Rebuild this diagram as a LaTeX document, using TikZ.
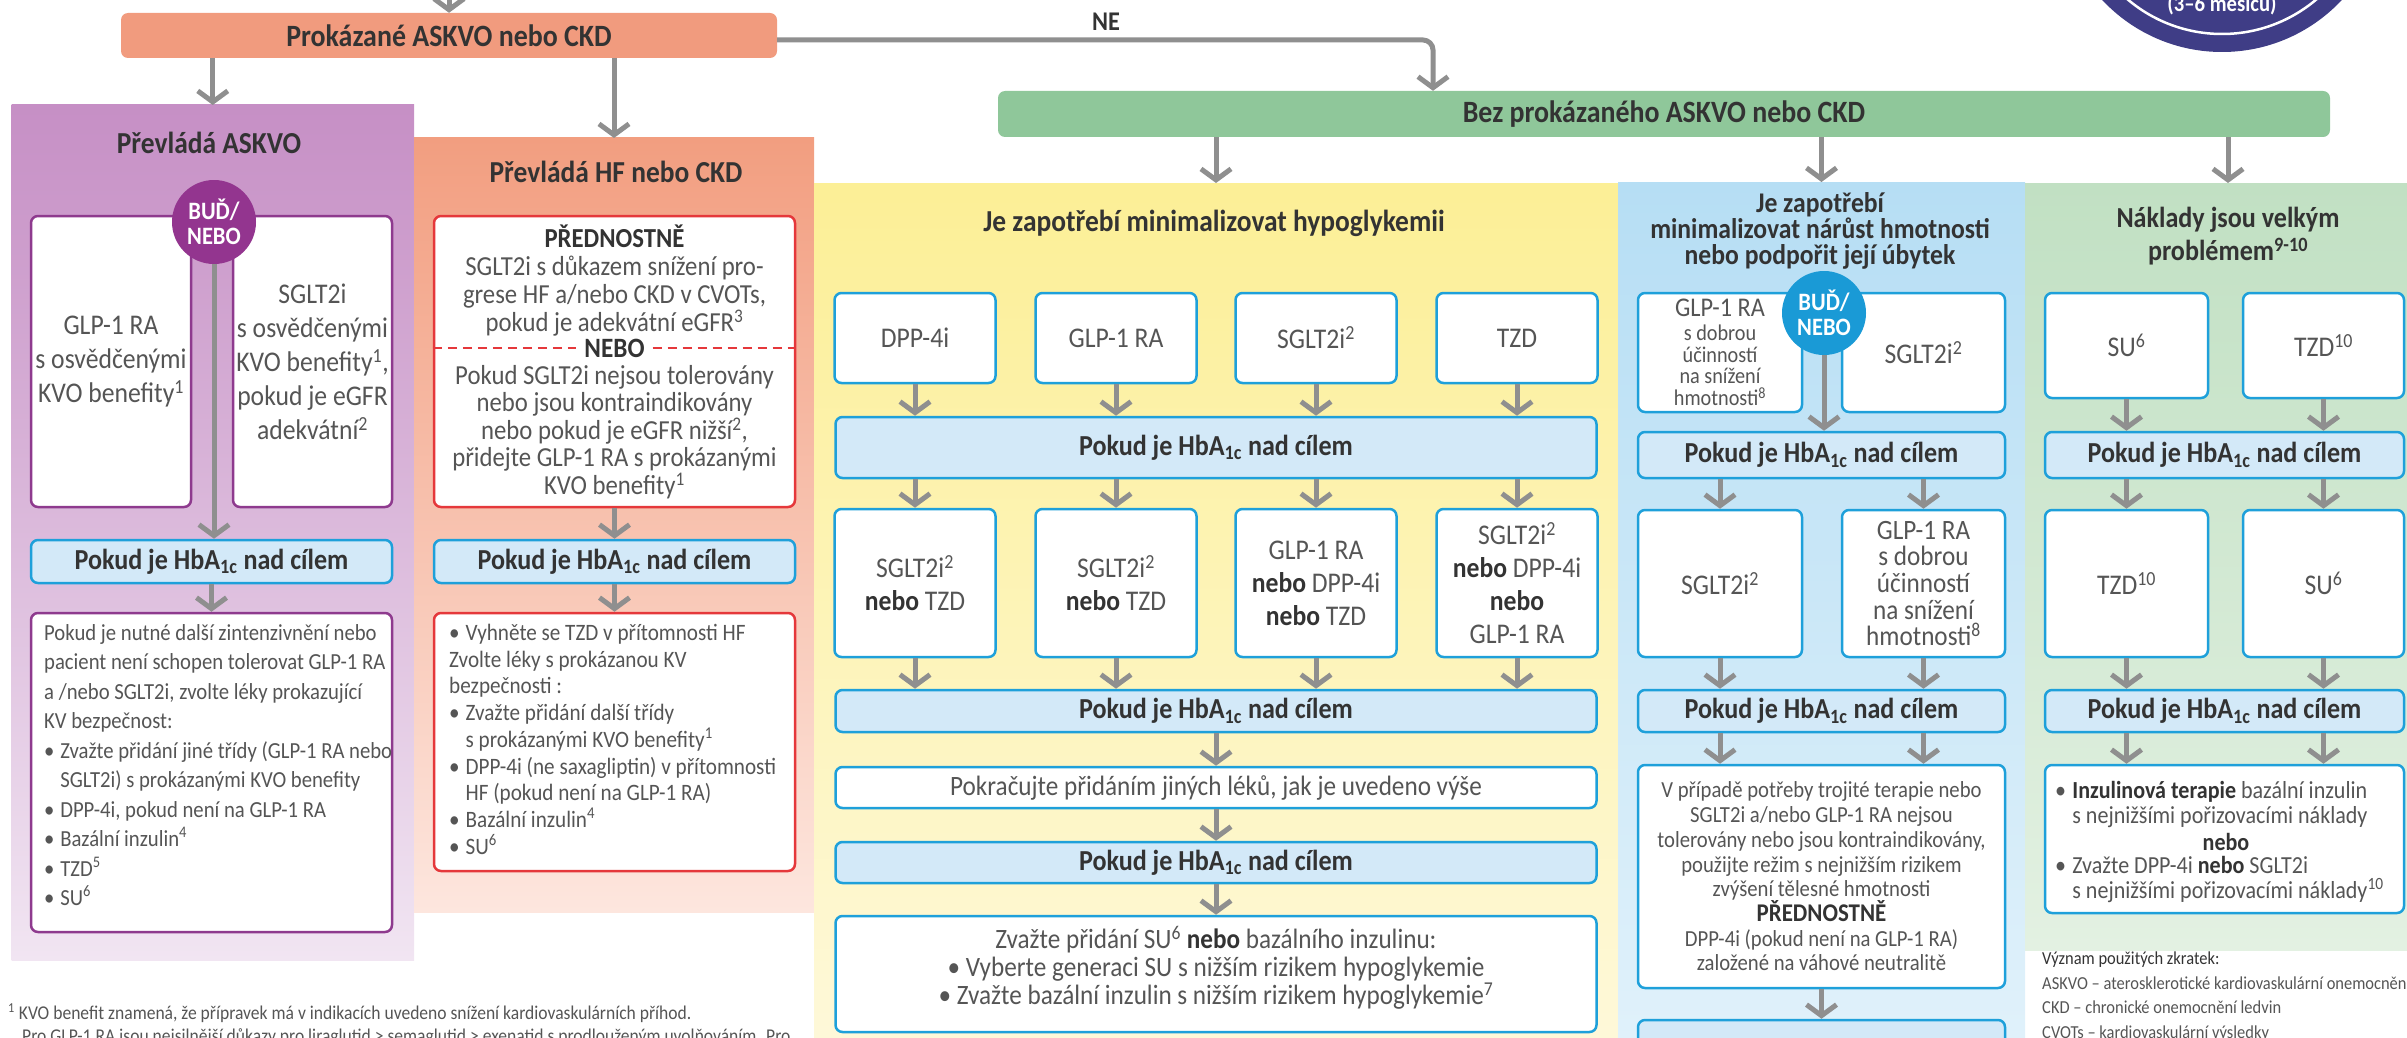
\documentclass[tikz,border=0pt]{standalone}
\usepackage{fontspec}
\setmainfont{Carlito}[FakeStretch=0.9]
\usetikzlibrary{arrows.meta}
\definecolor{askor}{HTML}{F19B7E}
\definecolor{bezgr}{HTML}{8FC79A}
\definecolor{purtop}{HTML}{C68FC5}
\definecolor{purbot}{HTML}{F1E5F2}
\definecolor{purb}{HTML}{8E3A8E}
\definecolor{purc}{HTML}{93358F}
\definecolor{hftop}{HTML}{F29E80}
\definecolor{hfbot}{HTML}{FDE6DE}
\definecolor{redb}{HTML}{E5383B}
\definecolor{yeltop}{HTML}{FCEF96}
\definecolor{yelbot}{HTML}{FEF9DC}
\definecolor{blutop}{HTML}{B6DEF4}
\definecolor{blubot}{HTML}{E2F2FB}
\definecolor{grtop}{HTML}{C1E0C3}
\definecolor{grbot}{HTML}{E3F1E2}
\definecolor{blueb}{HTML}{1EA0DA}
\definecolor{hbafill}{HTML}{D3E9F8}
\definecolor{bluec}{HTML}{1A9AD6}
\definecolor{arrgray}{HTML}{8F8F8F}
\definecolor{txt}{HTML}{555555}
\definecolor{ttl}{HTML}{333333}
\definecolor{navy}{HTML}{3F3D86}
\newcommand\szBar{\fontsize{31}{33}\selectfont\bfseries}
\newcommand\szTtl{\fontsize{30.5}{32}\selectfont\bfseries}
\newcommand\szHba{\fontsize{29}{30}\selectfont\bfseries}
\newcommand\szBox{\fontsize{28.5}{33}\selectfont}
\newcommand\szMid{\fontsize{28}{28}\selectfont}
\newcommand\szList{\fontsize{23}{29.5}\selectfont}
\newcommand\szFoot{\fontsize{19.5}{23}\selectfont}
\newcommand\szAbb{\fontsize{18.3}{24.5}\selectfont}
\newcommand\nebo{{\bfseries\color{ttl}nebo}}
\newcommand\bul{\makebox[0.7em][l]{•}}
\newcommand\ind{\hspace*{0.7em}}
\newcommand\hba{Pokud je HbA\textsubscript{1c} nad cílem}
\tikzset{
  arr/.style={draw=arrgray, line width=5pt, -{Straight Barb[length=11pt,width=30pt,line width=5pt]}},
  panel/.style={anchor=north west, inner sep=0pt, outer sep=0pt, rectangle},
  bar/.style={rectangle, rounded corners=7pt, inner sep=0pt, text=ttl, font=\szBar},
  ptitle/.style={text=ttl, font=\szTtl, align=center, inner sep=0pt},
  wbox/.style={rectangle, rounded corners=7pt, fill=white, line width=2.5pt, inner sep=0pt, text=txt, align=center},
  pbox/.style={wbox, draw=purb},
  rbox/.style={wbox, draw=redb},
  bbox/.style={wbox, draw=blueb},
  hbabox/.style={rectangle, rounded corners=7pt, fill=hbafill, draw=blueb, line width=2.5pt, inner sep=0pt, text=ttl, font=\szHba},
  orc/.style={circle, inner sep=0pt, minimum size=84pt, text=white, font=\fontsize{25}{25}\selectfont\bfseries, align=center},
  ltext/.style={anchor=north west, inner sep=0pt, align=left, text=txt},
  ctext/.style={inner sep=0pt, align=center, text=txt}
}
\begin{document}
\begin{tikzpicture}[x=1pt,y=-1pt]
\useasboundingbox (0,0) rectangle (2407,1038);
\clip (0,0) rectangle (2407,1038);
% panels
\node[panel, top color=purtop, bottom color=purbot, minimum width=402.5, minimum height=855] (pAsk) at (11.5,105) {};
\node[panel, top color=hftop, bottom color=hfbot, minimum width=400, minimum height=774] (pHf) at (414,138) {};
\node[panel, top color=yeltop, bottom color=yelbot, minimum width=804, minimum height=900] (pYel) at (814,183) {};
\node[panel, top color=blutop, bottom color=blubot, minimum width=407, minimum height=900] (pBlu) at (1618,182) {};
\node[panel, top color=grtop, bottom color=grbot, minimum width=400, minimum height=767] (pGrn) at (2025,183) {};
% top bars
\node[bar, fill=askor, minimum width=656, minimum height=45] (ask) at (449,35.5) {Prokázané ASKVO nebo CKD};
\node[bar, fill=bezgr, minimum width=1332, minimum height=46] (bez) at (1664,114) {Bez prokázaného ASKVO nebo CKD};
\node[ptitle, font=\fontsize{27}{28}\selectfont\bfseries] (ne) at (1106,22) {NE};
\coordinate (topin) at (449,-10);
\draw[arr] (topin) -- (ask.north);
\coordinate (neC) at (1433,40);
\draw[arr, rounded corners=10pt] (ask.east |- neC) -- (neC) -- (neC |- bez.north);
% navy circle
\fill[navy] (2222,-112) circle (164);
\draw[white, line width=2.5pt] (2222,-112) circle (146);
\node[text=white, font=\fontsize{23}{23}\selectfont\bfseries, anchor=base, inner sep=0pt] (cyc) at (2222,12) {(3–6 měsíců)};
% arrows to panels
\draw[arr] (ask.south -| pAsk.north) -- (pAsk.north);
\draw[arr] (ask.south -| pHf.north) -- (pHf.north);
% ===== ASKVO column
\node[ptitle] (tAsk) at (209,143) {Převládá ASKVO};
\node[pbox, font=\fontsize{28.5}{34}\selectfont, minimum width=160, minimum height=291] (a1) at (111,361.5) {GLP-1 RA\\s osvědčenými\\KVO benefity\textsuperscript{1}};
\node[pbox, font=\fontsize{28.5}{34}\selectfont, minimum width=159, minimum height=291] (a2) at (312.5,361.5) {SGLT2i\\s osvědčenými\\KVO benefity\textsuperscript{1},\\pokud je eGFR\\adekvátní\textsuperscript{2}};
\node[hbabox, minimum width=361, minimum height=43] (aH) at (211.5,561.5) {\hba};
\node[orc, fill=purc] (aOr) at (214,222) {BUĎ/\\NEBO};
\draw[arr] (aOr.south) -- (aOr.south |- aH.north);
\node[pbox, minimum width=361, minimum height=319] (aL) at (211.5,772.5) {};
\node[ltext, font=\szList] (aLt) at (44,624) {Pokud je nutné další zintenzivnění nebo\\pacient není schopen tolerovat GLP-1 RA\\a /nebo SGLT2i, zvolte léky prokazující\\KV bezpečnost:\\\bul Zvažte přidání jiné třídy (GLP-1 RA nebo\\\ind SGLT2i) s prokázanými KVO benefity\\\bul DPP-4i, pokud není na GLP-1 RA\\\bul Bazální inzulin\textsuperscript{4}\\\bul TZD\textsuperscript{5}\\\bul SU\textsuperscript{6}};
\draw[arr] (aH.south) -- (aL.north);
% ===== HF column
\node[ptitle] (tHf) at (616,172) {Převládá HF nebo CKD};
\node[rbox, minimum width=361, minimum height=291] (h1) at (614.5,361.5) {};
\node[ctext, font=\fontsize{27.5}{28}\selectfont] (h1a) at (614.5,281) {{\bfseries\color{ttl}PŘEDNOSTNĚ}\\SGLT2i s důkazem snížení pro-\\grese HF a/nebo CKD v CVOTs,\\pokud je adekvátní eGFR\textsuperscript{3}};
\node[text=ttl, font=\fontsize{28}{28}\selectfont\bfseries, inner ysep=0pt, inner xsep=8pt] (h1n) at (614.5,348) {NEBO};
\draw[redb, line width=2.5pt, dash pattern=on 9pt off 6pt] (h1.west |- h1n) -- (h1n.west) (h1n.east) -- (h1.east |- h1n);
\node[ctext, font=\fontsize{27.5}{27.5}\selectfont] (h1b) at (614.5,432) {Pokud SGLT2i nejsou tolerovány\\nebo jsou kontraindikovány\\nebo pokud je eGFR nižší\textsuperscript{2},\\přidejte GLP-1 RA s prokázanými\\KVO benefity\textsuperscript{1}};
\node[hbabox, minimum width=361, minimum height=43] (hH) at (614.5,561.5) {\hba};
\draw[arr] (h1.south) -- (hH.north);
\node[rbox, minimum width=361, minimum height=258] (hL) at (614.5,742) {};
\node[ltext, font=\fontsize{23.5}{26.7}\selectfont] (hLt) at (449,624) {\bul Vyhněte se TZD v přítomnosti HF\\Zvolte léky s prokázanou KV\\bezpečnosti :\\\bul Zvažte přidání další třídy\\\ind s prokázanými KVO benefity\textsuperscript{1}\\\bul DPP-4i (ne saxagliptin) v přítomnosti\\\ind HF (pokud není na GLP-1 RA)\\\bul Bazální inzulin\textsuperscript{4}\\\bul SU\textsuperscript{6}};
\draw[arr] (hH.south) -- (hL.north);
% ===== Yellow column
\draw[arr] (bez.south -| pYel.north) -- (pYel.north);
\node[ptitle] (tYel) at (1214,223) {Je zapotřebí minimalizovat hypoglykemii};
\node[bbox, font=\szBox, minimum width=161, minimum height=90] (y1) at (915,338) {DPP-4i};
\node[bbox, font=\szBox, minimum width=161, minimum height=90] (y2) at (1116,338) {GLP-1 RA};
\node[bbox, font=\szBox, minimum width=161, minimum height=90] (y3) at (1316,338) {SGLT2i\textsuperscript{2}};
\node[bbox, font=\szBox, minimum width=161, minimum height=90] (y4) at (1517,338) {TZD};
\node[hbabox, minimum width=761, minimum height=61] (yH1) at (1216,447.5) {\hba};
\node[bbox, font=\szBox, minimum width=161, minimum height=148] (y5) at (915,583) {SGLT2i\textsuperscript{2}\\\nebo\ TZD};
\node[bbox, font=\szBox, minimum width=161, minimum height=148] (y6) at (1116,583) {SGLT2i\textsuperscript{2}\\\nebo\ TZD};
\node[bbox, font=\szBox, minimum width=161, minimum height=148] (y7) at (1316,583) {GLP-1 RA\\\nebo\ DPP-4i\\\nebo\ TZD};
\node[bbox, font=\szBox, minimum width=161, minimum height=148] (y8) at (1517,583) {SGLT2i\textsuperscript{2}\\\nebo\ DPP-4i\\\nebo\\GLP-1 RA};
\node[hbabox, minimum width=761, minimum height=42] (yH2) at (1216,711) {\hba};
\node[bbox, font=\szMid, minimum width=761, minimum height=41] (yP) at (1216,787.5) {Pokračujte přidáním jiných léků, jak je uvedeno výše};
\node[hbabox, minimum width=761, minimum height=41] (yH3) at (1216,862.5) {\hba};
\node[bbox, minimum width=761, minimum height=116] (yF) at (1216,974) {};
\node[ctext, font=\szMid] (yFt) at (1216,968) {Zvažte přidání SU\textsuperscript{6} \nebo\ bazálního inzulinu:\\• Vyberte generaci SU s nižším rizikem hypoglykemie\\• Zvažte bazální inzulin s nižším rizikem hypoglykemie\textsuperscript{7}};
\foreach \n/\m in {y1/y5,y2/y6,y3/y7,y4/y8} {
  \draw[arr] (\n.south) -- (\n.south |- yH1.north);
  \draw[arr] (\n.south |- yH1.south) -- (\m.north);
  \draw[arr] (\m.south) -- (\m.south |- yH2.north);
}
\draw[arr] (yH2.south) -- (yP.north);
\draw[arr] (yP.south) -- (yH3.north);
\draw[arr] (yH3.south) -- (yF.north);
% ===== Blue column
\draw[arr] (bez.south -| pBlu.north) -- (pBlu.north);
\node[ptitle, font=\fontsize{28.5}{26}\selectfont\bfseries] (tBlu) at (1820,231) {Je zapotřebí\\minimalizovat nárůst hmotnosti\\nebo podpořit její úbytek};
\node[bbox, font=\fontsize{22.5}{21.7}\selectfont, minimum width=164, minimum height=119] (b1) at (1720,352.5) {{\fontsize{27}{23}\selectfont GLP-1 RA}\\[2pt]s dobrou\\účinností\\na snížení\\hmotnosti\textsuperscript{8}};
\node[bbox, font=\szBox, minimum width=163, minimum height=119] (b2) at (1923.5,352.5) {SGLT2i\textsuperscript{2}};
\node[hbabox, minimum width=367, minimum height=46] (bH1) at (1821.5,455) {\hba};
\node[orc, fill=bluec] (bOr) at (1824,313) {BUĎ/\\NEBO};
\draw[arr] (bOr.south) -- (bOr.south |- bH1.north);
\node[bbox, font=\szBox, minimum width=164, minimum height=147] (b3) at (1720,583.5) {SGLT2i\textsuperscript{2}};
\node[bbox, font=\fontsize{28}{26.7}\selectfont, minimum width=163, minimum height=147] (b4) at (1923.5,583.5) {GLP-1 RA\\s dobrou\\účinností\\na snížení\\hmotnosti\textsuperscript{8}};
\node[hbabox, minimum width=367, minimum height=42] (bH2) at (1821.5,711) {\hba};
\node[bbox, minimum width=367, minimum height=223] (bL) at (1821.5,876.5) {};
\node[ctext, font=\fontsize{23}{24.7}\selectfont] (bLt) at (1821.5,876.5) {V případě potřeby trojité terapie nebo\\SGLT2i a/nebo GLP-1 RA nejsou\\tolerovány nebo jsou kontraindikovány,\\použijte režim s nejnižším rizikem\\zvýšení tělesné hmotnosti\\{\bfseries\color{ttl}\fontsize{25.5}{24.7}\selectfont PŘEDNOSTNĚ}\\DPP-4i (pokud není na GLP-1 RA)\\založené na váhové neutralitě};
\node[hbabox, minimum width=367, minimum height=50] (bH3) at (1821.5,1045) {};
\draw[arr] (b1.south |- bH1.south) -- (b3.north);
\draw[arr] (b2.south |- bH1.south) -- (b4.north);
\draw[arr] (b3.south) -- (b3.south |- bH2.north);
\draw[arr] (b4.south) -- (b4.south |- bH2.north);
\draw[arr] (b3.south |- bH2.south) -- (b3.south |- bL.north);
\draw[arr] (b4.south |- bH2.south) -- (b4.south |- bL.north);
\draw[arr] (bL.south) -- (bH3.north);
% ===== Green column
\node[ptitle, font=\fontsize{29}{33}\selectfont\bfseries] (tGrn) at (2228,236) {Náklady jsou velkým\\problémem\textsuperscript{9-10}};
\draw[arr] (bez.south -| tGrn) -- (pGrn.north -| tGrn);
\node[bbox, font=\szBox, minimum width=163, minimum height=105] (g1) at (2126.5,345.5) {SU\textsuperscript{6}};
\node[bbox, font=\szBox, minimum width=161, minimum height=105] (g2) at (2323.5,345.5) {TZD\textsuperscript{10}};
\node[hbabox, minimum width=359, minimum height=46] (gH1) at (2224.5,455) {\hba};
\node[bbox, font=\szBox, minimum width=163, minimum height=147] (g3) at (2126.5,583.5) {TZD\textsuperscript{10}};
\node[bbox, font=\szBox, minimum width=161, minimum height=147] (g4) at (2323.5,583.5) {SU\textsuperscript{6}};
\node[hbabox, minimum width=359, minimum height=42] (gH2) at (2224.5,711) {\hba};
\node[bbox, minimum width=359, minimum height=148] (gL) at (2224.5,839) {};
\node[ltext, font=\fontsize{24.5}{25}\selectfont] (gLa) at (2055,781) {\bul{\bfseries\color{ttl}Inzulinová terapie} bazální inzulin\\\ind s nejnižšími pořizovacími náklady};
\node[text=ttl, font=\fontsize{24.5}{25}\selectfont\bfseries, inner sep=0pt] (gLb) at (2226,842) {nebo};
\node[ltext, font=\fontsize{24.5}{25}\selectfont] (gLc) at (2055,856) {\bul Zvažte DPP-4i \nebo\ SGLT2i\\\ind s nejnižšími pořizovacími náklady\textsuperscript{10}};
\draw[arr] (g1.south) -- (g1.south |- gH1.north);
\draw[arr] (g2.south) -- (g2.south |- gH1.north);
\draw[arr] (g1.south |- gH1.south) -- (g3.north);
\draw[arr] (g2.south |- gH1.south) -- (g4.north);
\draw[arr] (g3.south) -- (g3.south |- gH2.north);
\draw[arr] (g4.south) -- (g4.south |- gH2.north);
\draw[arr] (g3.south |- gH2.south) -- (g3.south |- gL.north);
\draw[arr] (g4.south |- gH2.south) -- (g4.south |- gL.north);
% ===== footnotes and abbreviations
\node[anchor=west, inner sep=0pt, text=txt, font=\szFoot] (fn1) at (8,1013) {\textsuperscript{1} KVO benefit znamená, že přípravek má v indikacích uvedeno snížení kardiovaskulárních příhod.};
\node[anchor=west, inner sep=0pt, text=txt, font=\szFoot] (fn2) at (22,1037) {Pro GLP-1 RA jsou nejsilnější důkazy pro liraglutid > semaglutid > exenatid s prodlouženým uvolňováním. Pro};
\node[ltext, font=\szAbb] (abb) at (2042,952) {{\color{ttl}Význam použitých zkratek:}\\ASKVO – aterosklerotické kardiovaskulární onemocnění\\CKD – chronické onemocnění ledvin\\CVOTs – kardiovaskulární výsledky};
\end{tikzpicture}
\end{document}
